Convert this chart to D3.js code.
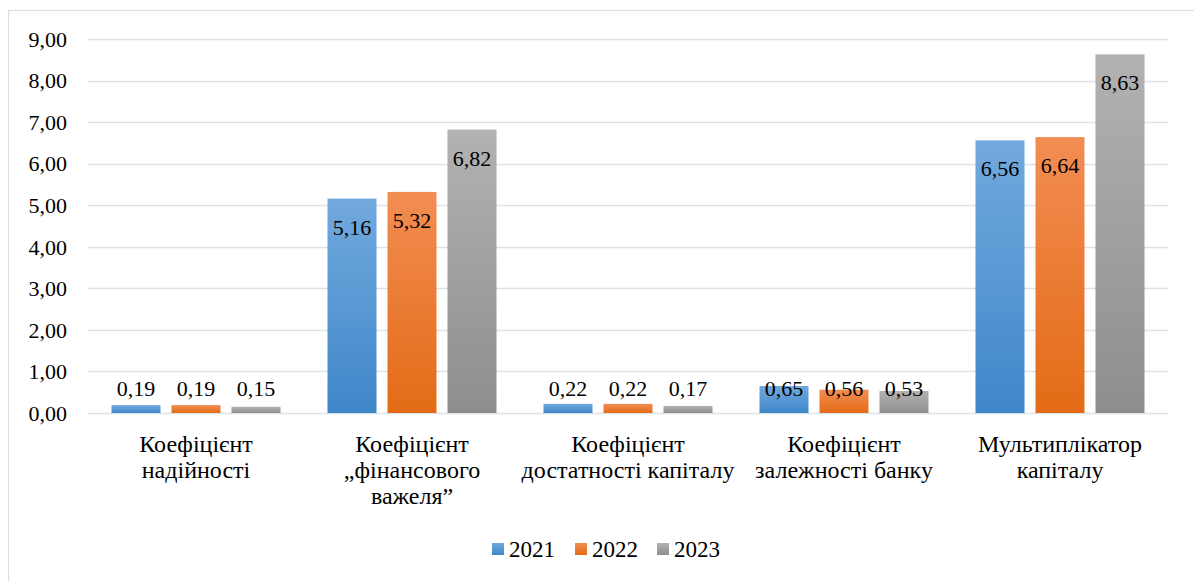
<!DOCTYPE html>
<html>
<head>
<meta charset="utf-8">
<script src="https://cdn.jsdelivr.net/npm/d3@7"></script>
<style>
  html, body { margin: 0; padding: 0; background: #fff; }
  svg { display: block; }
</style>
</head>
<body>
<svg id="chart" width="1194" height="581"></svg>
<script>
const categories = [
  ["Коефіцієнт", "надійності"],
  ["Коефіцієнт", "„фінансового", "важеля”"],
  ["Коефіцієнт", "достатності капіталу"],
  ["Коефіцієнт", "залежності банку"],
  ["Мультиплікатор", "капіталу"]
];
const seriesNames = ["2021", "2022", "2023"];
const values2021 = [0.19, 5.16, 0.22, 0.65, 6.56];
const values2022 = [0.19, 5.32, 0.22, 0.56, 6.64];
const values2023 = [0.15, 6.82, 0.17, 0.53, 8.63];
const yTicks = [0, 1, 2, 3, 4, 5, 6, 7, 8, 9];

const seriesValues = [values2021, values2022, values2023];
const gradients = [
  ["#72a9de", "#3f87c9"],
  ["#f28d53", "#e36b16"],
  ["#b2b2b2", "#8e8e8e"]
];
const FONT = "Liberation Serif";

const svg = d3.select("#chart");
const W = 1194, H = 581;
const margin = { left: 88, right: 26, top: 39, bottom: 168 };
const plotW = W - margin.left - margin.right;

// outer frame (only top/left visible in the picture)
svg.append("rect").attr("x", 8.5).attr("y", 10.5).attr("width", W + 20).attr("height", H + 20)
  .attr("fill", "#fff").attr("stroke", "#d9dde4").attr("stroke-width", 1.2);

const defs = svg.append("defs");
gradients.forEach((g, i) => {
  const lg = defs.append("linearGradient").attr("id", "grad" + i)
    .attr("x1", 0).attr("y1", 0).attr("x2", 0).attr("y2", 1);
  lg.append("stop").attr("offset", "0%").attr("stop-color", g[0]);
  lg.append("stop").attr("offset", "100%").attr("stop-color", g[1]);
});

const y = d3.scaleLinear().domain([0, 9]).range([413, 39]);
const x0 = d3.scaleBand().domain(d3.range(categories.length)).range([margin.left, margin.left + plotW]);
const barW = 49;
const x1 = d3.scalePoint().domain(d3.range(seriesNames.length)).range([-60, 60]);

// gridlines
const grid = svg.append("g");
grid.selectAll("line").data(yTicks).join("line")
  .attr("x1", margin.left).attr("x2", margin.left + plotW)
  .attr("y1", d => Math.round(y(d)) + 0.5).attr("y2", d => Math.round(y(d)) + 0.5)
  .attr("stroke", "#dde1e8").attr("stroke-width", 1.4);

// y axis labels
const yAxis = d3.axisLeft(y).tickValues(yTicks).tickSize(0).tickPadding(0)
  .tickFormat(d => d3.format(".2f")(d).replace(".", ","));
const ya = svg.append("g").attr("transform", "translate(67,0)").call(yAxis)
  .attr("font-family", FONT).attr("font-size", 22);
ya.select(".domain").remove();
ya.selectAll("text").attr("fill", "#000").attr("dy", "0.33em");

// bars
const groups = svg.append("g").selectAll("g").data(categories).join("g")
  .attr("transform", (d, i) => `translate(${x0(i) + x0.bandwidth() / 2},0)`);

seriesNames.forEach((s, si) => {
  groups.append("rect")
    .attr("x", x1(si) - barW / 2).attr("width", barW)
    .attr("y", (d, ci) => y(seriesValues[si][ci]))
    .attr("height", (d, ci) => y(0) - y(seriesValues[si][ci]))
    .attr("fill", `url(#grad${si})`);
  groups.append("text")
    .attr("x", x1(si))
    .attr("y", (d, ci) => Math.min(y(seriesValues[si][ci]) + 36, y(0) - 17))
    .attr("text-anchor", "middle").attr("font-size", 22).attr("font-family", FONT).attr("fill", "#000")
    .text((d, ci) => d3.format(".2f")(seriesValues[si][ci]).replace(".", ","));
});

// category labels
groups.append("text").attr("text-anchor", "middle").attr("font-size", 24).attr("font-family", FONT).attr("fill", "#000")
  .selectAll("tspan").data(d => d).join("tspan")
  .attr("x", 0).attr("y", (d, i) => 452 + i * 26)
  .text(d => d);

// legend
const legend = svg.append("g");
const legX = [492, 575, 657];
seriesNames.forEach((s, i) => {
  legend.append("rect").attr("x", legX[i]).attr("y", 543).attr("width", 12).attr("height", 12)
    .attr("fill", `url(#grad${i})`);
  legend.append("text").attr("x", legX[i] + 17).attr("y", 557)
    .attr("font-size", 23).attr("font-family", FONT).attr("fill", "#000").text(s);
});
</script>
</body>
</html>
